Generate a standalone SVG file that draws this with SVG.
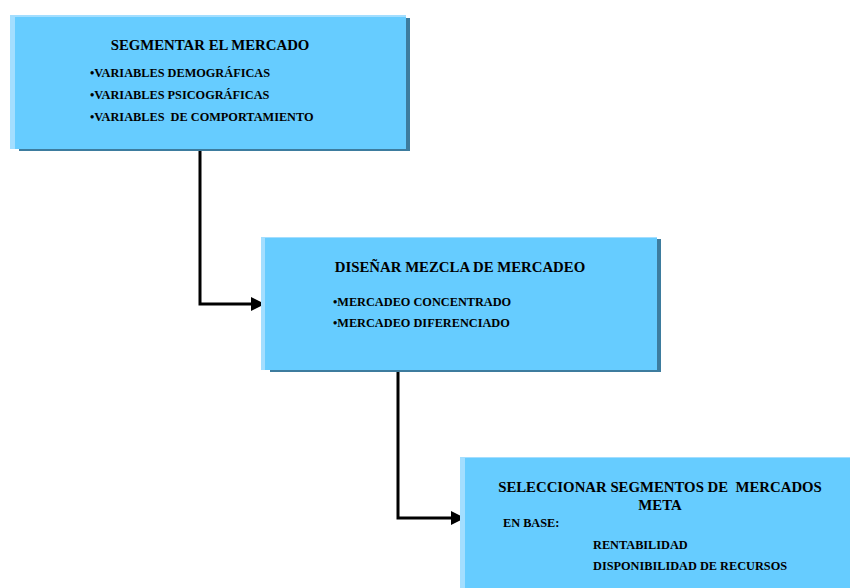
<svg xmlns="http://www.w3.org/2000/svg" width="850" height="588" viewBox="0 0 850 588">
  <style>
    .hi { fill: #A3DEFF; }
    .face { fill: #66CCFF; }
    .shade { fill: #3D7C9E; }
    text { font-family: "Liberation Serif", "Times New Roman", serif; font-weight: bold; fill: #000; }
    .title { font-size: 14.8px; }
    .item { font-size: 12.3px; }
    .conn { fill: none; stroke: #000; stroke-width: 3; }
  </style>
  <defs>
    <marker id="arrow" markerUnits="userSpaceOnUse" markerWidth="14" markerHeight="14" refX="13" refY="7" orient="auto">
      <path d="M0,0 L14,7 L0,14 Z" fill="#000"/>
    </marker>
  </defs>

  <rect width="850" height="588" fill="#fff"/>

  <g id="connectors">
    <polyline class="conn" points="200,149 200,304 264,304" marker-end="url(#arrow)"/>
    <polyline class="conn" points="398,371 398,518 464,518" marker-end="url(#arrow)"/>
  </g>

  <g id="segmentar">
    <rect class="shade" x="19" y="18" width="391" height="133"/>
    <rect class="hi" x="10" y="15" width="396" height="134"/>
    <rect class="face" x="15" y="17" width="391" height="132"/>
    <text class="title" x="210" y="50" text-anchor="middle">SEGMENTAR EL MERCADO</text>
    <text class="item" x="90" y="77">•VARIABLES DEMOGRÁFICAS</text>
    <text class="item" x="90" y="99">•VARIABLES PSICOGRÁFICAS</text>
    <text class="item" x="90" y="121" xml:space="preserve">•VARIABLES  DE COMPORTAMIENTO</text>
  </g>

  <g id="disenar">
    <rect class="shade" x="270" y="239" width="391" height="133"/>
    <rect class="hi" x="261" y="237" width="396" height="133"/>
    <rect class="face" x="265" y="238" width="392" height="132"/>
    <text class="title" x="460" y="272" text-anchor="middle">DISEÑAR MEZCLA DE MERCADEO</text>
    <text class="item" x="333" y="306">•MERCADEO CONCENTRADO</text>
    <text class="item" x="333" y="327">•MERCADEO DIFERENCIADO</text>
  </g>

  <g id="seleccionar">
    <rect class="hi" x="460" y="457" width="390" height="131"/>
    <rect class="face" x="465" y="458" width="385" height="130"/>
    <text class="title" x="660" y="492" text-anchor="middle" xml:space="preserve">SELECCIONAR SEGMENTOS DE  MERCADOS</text>
    <text class="title" x="660" y="510" text-anchor="middle">META</text>
    <text class="item" x="503" y="527">EN BASE:</text>
    <text class="item" x="593" y="549">RENTABILIDAD</text>
    <text class="item" x="593" y="570">DISPONIBILIDAD DE RECURSOS</text>
  </g>
</svg>
